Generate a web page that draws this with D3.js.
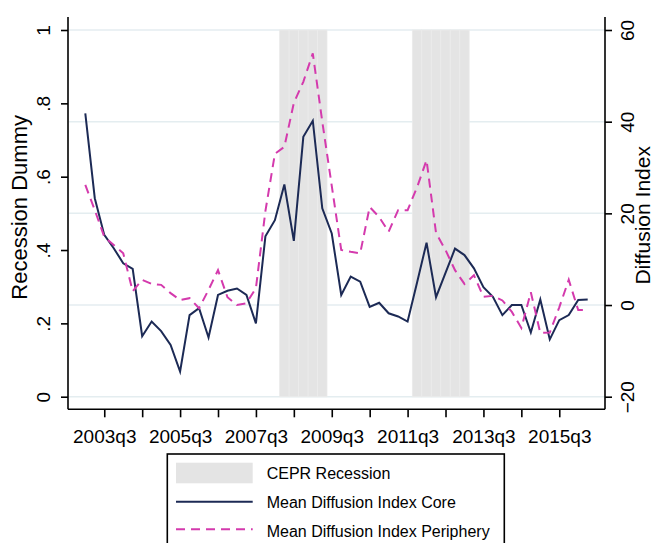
<!DOCTYPE html>
<html>
<head>
<meta charset="utf-8">
<script src="https://cdn.jsdelivr.net/npm/d3@7"></script>
<style>
  html, body { margin: 0; padding: 0; background: #fff; }
  svg { display: block; font-family: "Liberation Sans", Arial, Helvetica, sans-serif; }
</style>
</head>
<body>
<script>
// Quarterly observations, 2003q1 - 2016q2
const quarters = [
  "2003q1","2003q2","2003q3","2003q4","2004q1","2004q2","2004q3","2004q4",
  "2005q1","2005q2","2005q3","2005q4","2006q1","2006q2","2006q3","2006q4",
  "2007q1","2007q2","2007q3","2007q4","2008q1","2008q2","2008q3","2008q4",
  "2009q1","2009q2","2009q3","2009q4","2010q1","2010q2","2010q3","2010q4",
  "2011q1","2011q2","2011q3","2011q4","2012q1","2012q2","2012q3","2012q4",
  "2013q1","2013q2","2013q3","2013q4","2014q1","2014q2","2014q3","2014q4",
  "2015q1","2015q2","2015q3","2015q4","2016q1","2016q2"
];

// CEPR recession dummy (left axis)
const recession = [
  0,0,0,0,0,0,0,0, 0,0,0,0,0,0,0,0, 0,0,0,0,0,1,1,1,
  1,1,0,0,0,0,0,0, 0,0,0,1,1,1,1,1, 1,0,0,0,0,0,0,0,
  0,0,0,0,0,0
];

// Mean diffusion index, core countries (right axis)
const coreIndex = [
  41.8, 23.3, 15.3, 12.4, 9.1, 7.9, -6.8, -3.6,
  -5.7, -8.7, -14.5, -2.2, -0.7, -7.1, 2.2, 3.1,
  3.6, 2.2, -4.0, 15.0, 18.5, 26.3, 14.0, 36.7,
  40.2, 21.1, 15.6, 2.2, 6.2, 5.1, -0.4, 0.5,
  -1.8, -2.5, -3.6, 4.9, 13.6, 1.7, 7.0, 12.3,
  10.9, 8.0, 3.9, 1.8, -2.2, 0.0, 0.0, -6.0,
  1.2, -7.5, -3.3, -2.2, 1.1, 1.2
];

// Mean diffusion index, periphery countries (right axis)
const peripheryIndex = [
  26.2, 20.7, 14.9, 13.1, 11.3, 3.0, 5.5, 4.6,
  4.4, 2.6, 1.1, 1.5, -0.7, 3.3, 7.6, 1.7,
  0.0, 0.4, 3.7, 20.5, 33.0, 34.5, 44.1, 48.7,
  54.9, 40.0, 26.0, 12.0, 11.6, 11.3, 21.4, 19.2,
  16.0, 20.7, 20.7, 25.7, 31.6, 15.7, 12.0, 7.6,
  4.6, 6.5, 1.8, 2.0, 1.0, -1.5, -5.0, 2.8,
  -6.1, -6.0, -0.5, 5.5, -1.1, -1.1
];

const xTickQuarters = ["2003q3","2004q3","2005q3","2006q3","2007q3","2008q3","2009q3",
                       "2010q3","2011q3","2012q3","2013q3","2014q3","2015q3"];
const xTickLabels = ["2003q3","2005q3","2007q3","2009q3","2011q3","2013q3","2015q3"];
const leftTicks = [0, 0.2, 0.4, 0.6, 0.8, 1];
const leftTickLabels = ["0", ".2", ".4", ".6", ".8", "1"];
const rightTicks = [-20, 0, 20, 40, 60];
const rightTickLabels = ["\u221220", "0", "20", "40", "60"];
const legendLabels = ["CEPR Recession", "Mean Diffusion Index Core", "Mean Diffusion Index Periphery"];

const W = 654, H = 543;
const colCore = "#1c2a55", colPeriph = "#d43aad", colShade = "#e4e4e4", colGrid = "#e4edf0";

const svg = d3.select("body").append("svg").attr("width", W).attr("height", H);

// plot region
const plotLeft = 68, plotRight = 605, plotTop = 17, plotBottom = 409.3;
const x = d3.scalePoint().domain(quarters).range([85.3, 587.7]);
const yL = d3.scaleLinear().domain([0, 1]).range([396.7, 30]);
const yR = d3.scaleLinear().domain([-20, 60]).range([396.7, 30]);
const step = x.step();

// gridlines at right-axis ticks
svg.append("g").selectAll("line").data(rightTicks).join("line")
  .attr("x1", plotLeft + 1).attr("x2", plotRight)
  .attr("y1", d => yR(d)).attr("y2", d => yR(d))
  .attr("stroke", colGrid).attr("stroke-width", 1.5);

// recession bars
const qs = quarters.map((q, i) => ({ q, r: recession[i] }));
svg.append("g").selectAll("rect").data(qs.filter(d => d.r > 0)).join("rect")
  .attr("x", d => x(d.q) - step / 2)
  .attr("width", step)
  .attr("y", d => yL(d.r))
  .attr("height", d => yL(0) - yL(d.r))
  .attr("fill", colShade)
  .attr("stroke", "#ebebeb").attr("stroke-width", 0.8);

// series lines
const line = d3.line().x(d => x(d.q)).y(d => yR(d.v));
svg.append("path")
  .datum(quarters.map((q, i) => ({ q, v: coreIndex[i] })))
  .attr("d", line).attr("fill", "none")
  .attr("stroke", colCore).attr("stroke-width", 2);
svg.append("path")
  .datum(quarters.map((q, i) => ({ q, v: peripheryIndex[i] })))
  .attr("d", line).attr("fill", "none")
  .attr("stroke", colPeriph).attr("stroke-width", 2)
  .attr("stroke-dasharray", "9,6");

// axis lines
const axisG = svg.append("g").attr("stroke", "#000").attr("stroke-width", 1.6);
axisG.append("line").attr("x1", plotLeft).attr("x2", plotRight).attr("y1", plotBottom).attr("y2", plotBottom);
axisG.append("line").attr("x1", plotLeft).attr("x2", plotLeft).attr("y1", plotTop).attr("y2", plotBottom);
axisG.append("line").attr("x1", plotRight).attr("x2", plotRight).attr("y1", plotTop).attr("y2", plotBottom);

function styleAxis(g) {
  g.select(".domain").remove();
  g.selectAll(".tick line").attr("stroke", "#000").attr("stroke-width", 1.6);
  g.selectAll(".tick text").attr("fill", "#000");
}

// x axis
svg.append("g").attr("transform", `translate(0,${plotBottom})`)
  .call(d3.axisBottom(x).tickValues(xTickQuarters).tickSize(8)
        .tickFormat(d => xTickLabels.includes(d) ? d : ""))
  .call(styleAxis)
  .call(g => g.selectAll(".tick text").attr("font-size", 19).attr("y", 0).attr("dy", "1.78em")
        .attr("font-family", "Liberation Sans, Arial, sans-serif"));

// left axis (recession dummy)
svg.append("g").attr("transform", `translate(${plotLeft},0)`)
  .call(d3.axisLeft(yL).tickValues(leftTicks).tickSize(7)
        .tickFormat((d, i) => leftTickLabels[i]))
  .call(styleAxis)
  .call(g => g.selectAll(".tick text").attr("font-size", 19)
        .attr("transform", "rotate(-90)").attr("x", 0).attr("y", -18).attr("dy", 0)
        .attr("text-anchor", "middle").attr("font-family", "Liberation Sans, Arial, sans-serif"));

// right axis (diffusion index)
svg.append("g").attr("transform", `translate(${plotRight},0)`)
  .call(d3.axisRight(yR).tickValues(rightTicks).tickSize(7)
        .tickFormat((d, i) => rightTickLabels[i]))
  .call(styleAxis)
  .call(g => g.selectAll(".tick text").attr("font-size", 19)
        .attr("transform", "rotate(-90)").attr("x", 0).attr("y", 29).attr("dy", 0)
        .attr("text-anchor", "middle").attr("font-family", "Liberation Sans, Arial, sans-serif"));

// axis titles
const midY = (yL(0) + yL(1)) / 2;
svg.append("text").attr("transform", `translate(27,${midY - 6}) rotate(-90)`)
  .attr("text-anchor", "middle").attr("font-size", 22).text("Recession Dummy");
svg.append("text").attr("transform", `translate(650,${midY + 2}) rotate(-90)`)
  .attr("text-anchor", "middle").attr("font-size", 21).text("Diffusion Index");

// legend
const lg = svg.append("g");
lg.append("rect").attr("x", 167.3).attr("y", 454).attr("width", 337).attr("height", 110)
  .attr("fill", "#fff").attr("stroke", "#000").attr("stroke-width", 1.6);
lg.append("rect").attr("x", 176).attr("y", 462.7).attr("width", 76.7).attr("height", 20.6)
  .attr("fill", colShade);
lg.append("line").attr("x1", 176).attr("x2", 252.7).attr("y1", 501.7).attr("y2", 501.7)
  .attr("stroke", colCore).attr("stroke-width", 2);
lg.append("line").attr("x1", 176).attr("x2", 252.7).attr("y1", 529.3).attr("y2", 529.3)
  .attr("stroke", colPeriph).attr("stroke-width", 2).attr("stroke-dasharray", "9,6");
lg.selectAll("text.lab").data(legendLabels).join("text").attr("class", "lab")
  .attr("x", 266.7).attr("y", (d, i) => [479.3, 508.3, 536.7][i])
  .attr("font-size", 16).attr("fill", "#000").text(d => d);
</script>
</body>
</html>
